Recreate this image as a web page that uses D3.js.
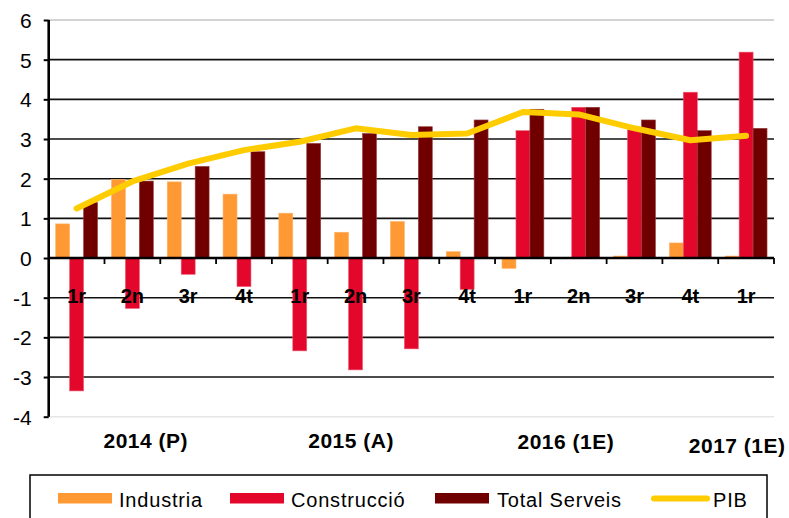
<!DOCTYPE html>
<html><head><meta charset="utf-8">
<script src="https://cdn.jsdelivr.net/npm/d3@7"></script>
<style>body{margin:0;background:#fff;} svg{display:block;font-family:"Liberation Sans",Arial,sans-serif;}</style>
</head><body>
<svg id="chart" width="789" height="518"></svg>
<script>
// ---- data ----
const quarters = ["1r","2n","3r","4t","1r","2n","3r","4t","1r","2n","3r","4t","1r"];
const industria   = [0.86, 1.98, 1.92, 1.61, 1.13, 0.65, 0.92, 0.16, -0.26, 0.00, 0.05, 0.38, 0.05];
const construccio = [-3.35, -1.27, -0.41, -0.72, -2.34, -2.82, -2.29, -0.79, 3.21, 3.80, 3.23, 4.18, 5.19];
const serveis     = [1.40, 1.94, 2.31, 2.68, 2.89, 3.14, 3.31, 3.48, 3.75, 3.80, 3.48, 3.21, 3.27];
const pib         = [1.25, 1.93, 2.38, 2.72, 2.93, 3.27, 3.10, 3.14, 3.68, 3.62, 3.27, 2.97, 3.08];
const seriesNames = ["Industria","Construcció","Total Serveis"];
const lineName = "PIB";
const yearLabels = ["2014 (P)","2015 (A)","2016 (1E)","2017 (1E)"];
const yTicks = [-4,-3,-2,-1,0,1,2,3,4,5,6];

// ---- layout/styles ----
const colors = {"Industria":"#FF9933","Construcció":"#E3072B","Total Serveis":"#700000"};
const strokes = {"Industria":"#FFB36B","Construcció":"#EE5A72","Total Serveis":"#9A4040"};
const pibColor = "#FFCC00";
const yearAnchor = [1.74, 5.42, 9.27, 12.34]; // fractional category positions
const yearBaseline = [448, 448, 449, 453];

const svg = d3.select("#chart");
const pLeft = 48.7, pRight = 774, pTop = 20, pBottom = 416.7;

const x0 = d3.scaleBand().domain(d3.range(quarters.length)).range([pLeft, pRight]).padding(0);
const x1 = d3.scaleBand().domain(seriesNames).range([0, x0.bandwidth()]).paddingInner(0).paddingOuter(0.5);
const y = d3.scaleLinear().domain([-4, 6]).range([pBottom, pTop]);
const xc = i => x0(i) + x0.bandwidth()/2;

// gridlines
svg.append("g").selectAll("line").data(yTicks).join("line")
  .attr("x1", pLeft).attr("x2", pRight)
  .attr("y1", d => y(d)).attr("y2", d => y(d))
  .attr("stroke", d => d === 6 ? "#c4c4c4" : d === -4 ? "#e6e6e6" : "#111")
  .attr("stroke-width", d => (d === 6 || d === -4) ? 1.5 : 1.6);

// bars
const seriesData = [industria, construccio, serveis];
seriesNames.forEach((name, si) => {
  svg.append("g").selectAll("rect").data(seriesData[si]).join("rect")
    .attr("x", (d, i) => x0(i) + x1(name))
    .attr("width", x1.bandwidth())
    .attr("y", d => y(Math.max(0, d)))
    .attr("height", d => Math.abs(y(d) - y(0)))
    .attr("fill", colors[name])
    .attr("stroke", d => Math.abs(d) > 0.02 ? strokes[name] : "none")
    .attr("stroke-width", 0.6);
});

// y axis
const yAxis = d3.axisLeft(y).tickValues(yTicks).tickSize(5).tickFormat(d3.format("d"));
const gy = svg.append("g").attr("transform", `translate(${pLeft},0)`).call(yAxis);
gy.select(".domain").attr("stroke", "#000").attr("stroke-width", 2.6).attr("d", `M0,${pTop}V${pBottom}`);
gy.selectAll(".tick line").attr("stroke", "#000").attr("stroke-width", 2);
gy.selectAll(".tick text").attr("x", -17).attr("dy", "0.36em")
  .style("font-size", "21px").style("font-family", "Liberation Sans, Arial, sans-serif").attr("fill", "#000")
  .text(d => d < 0 ? "-" + Math.abs(d) : d);

// x axis at zero
const gx = svg.append("g");
gx.append("line").attr("x1", pLeft).attr("x2", pRight).attr("y1", y(0)).attr("y2", y(0))
  .attr("stroke", "#000").attr("stroke-width", 2.6);
gx.selectAll("line.tk").data(d3.range(1, quarters.length + 1)).join("line").attr("class","tk")
  .attr("x1", i => x0.step()*i + pLeft).attr("x2", i => x0.step()*i + pLeft)
  .attr("y1", y(0)).attr("y2", y(0) + 6).attr("stroke", "#000").attr("stroke-width", 1.8);

// PIB line
const line = d3.line().x((d, i) => xc(i)).y(d => y(d)).curve(d3.curveLinear);
svg.append("path").datum(pib).attr("d", line).attr("fill", "none")
  .attr("stroke", pibColor).attr("stroke-width", 6).attr("stroke-linecap", "round").attr("stroke-linejoin", "round");

// quarter labels
svg.append("g").selectAll("text").data(quarters).join("text")
  .attr("x", (d, i) => xc(i)).attr("y", 303).attr("text-anchor", "middle")
  .style("font-size", "20px").style("font-weight", "bold").attr("fill", "#000").text(d => d);

// year labels
svg.append("g").selectAll("text").data(yearLabels).join("text")
  .attr("x", (d, i) => pLeft + x0.step()*yearAnchor[i]).attr("y", (d, i) => yearBaseline[i])
  .attr("text-anchor", "middle").style("font-size", "21px").style("font-weight", "bold")
  .style("letter-spacing", "0.5px").attr("fill", "#000").text(d => d);

// legend
const lg = svg.append("g");
lg.append("rect").attr("x", 30).attr("y", 475).attr("width", 737).attr("height", 60)
  .attr("fill", "#fff").attr("stroke", "#000").attr("stroke-width", 1.5);
const legendItems = [
  {name:"Industria", sx:58, tx:119},
  {name:"Construcció", sx:230, tx:291},
  {name:"Total Serveis", sx:435, tx:497},
  {name:"PIB", sx:651, tx:713}
];
legendItems.forEach(it => {
  if (it.name === lineName) {
    lg.append("line").attr("x1", it.sx + 3).attr("x2", it.sx + 56).attr("y1", 498.5).attr("y2", 498.5)
      .attr("stroke", pibColor).attr("stroke-width", 6).attr("stroke-linecap", "round");
  } else {
    lg.append("rect").attr("x", it.sx).attr("y", 493).attr("width", 54).attr("height", 10.5)
      .attr("fill", colors[it.name]);
  }
  lg.append("text").attr("x", it.tx).attr("y", 506.5).style("font-size", "20px")
    .style("letter-spacing", "0.8px").attr("fill", "#000").text(it.name);
});
</script>
</body></html>
